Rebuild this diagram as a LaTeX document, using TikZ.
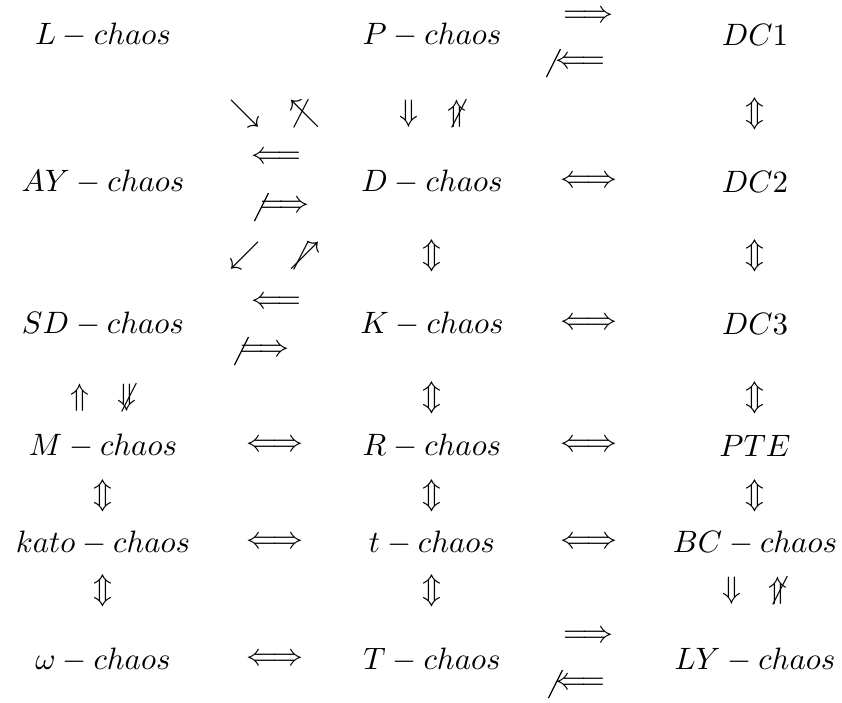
\documentclass[tikz,border=0pt]{standalone}
\usepackage{amsmath,amssymb}
\usepackage{tikz}
\usetikzlibrary{positioning}
% slash through a long implication, #2 = shift of its middle from the arrow start
\newcommand{\crossout}[2]{\draw[slash] ([shift={(#2-7,14)}]#1.west) -- ([shift={(#2+7,-14)}]#1.west);}
\begin{document}
\begin{tikzpicture}[
    x=0.3233pt,
    y=-0.3233pt,
    chaos/.style={
        inner sep=0pt,
        anchor=center
    },
    imp/.style={
        inner sep=0pt,
        anchor=center
    },
    slash/.style={
        line width=0.4pt
    }
]
\useasboundingbox (0,0) rectangle (842,702);

% first row
\node[chaos] (L) at (103,35) {$L-chaos$};
\node[chaos] (P) at (432,35) {$P-chaos$};
\node[chaos] (DC1) at (755,35) {$DC1$};
\node[imp] (PtoDC) at (588,17) {$\Longrightarrow$};
\node[imp] (DCnotP) at (580,63) {$\Longleftarrow$};
\crossout{DCnotP}{-1}

% arrows below first row
\node[imp] (PtoAY) at (245,114) {$\searrow$};
\node[imp] (AYnotP) at (305,114) {$\not\nwarrow$};
\node[imp] (PtoD) at (409,114) {$\Downarrow$};
\node[imp] (DnotP) at (457,114) {$\not\Uparrow$};
\node[imp] (DC12) at (755,114) {$\Updownarrow$};

% second row
\node[chaos] (AY) at (103,182) {$AY-chaos$};
\node[chaos] (D) at (432,182) {$D-chaos$};
\node[chaos] (DC2) at (755,182) {$DC2$};
\node[imp] (DtoAY) at (276,158) {$\Longleftarrow$};
\node[imp] (AYnotD) at (285,207) {$\Longrightarrow$};
\crossout{AYnotD}{2}
\node[imp] (DDC2) at (589,182) {$\Longleftrightarrow$};

% arrows below second row
\node[imp] (KtoSD) at (245,256) {$\swarrow$};
\node[imp] (SDnotK) at (305,256) {$\not\nearrow$};
\node[imp] (DK) at (432,256) {$\Updownarrow$};
\node[imp] (DC23) at (755,256) {$\Updownarrow$};

% third row
\node[chaos] (SD) at (103,324) {$SD-chaos$};
\node[chaos] (K) at (432,324) {$K-chaos$};
\node[chaos] (DC3) at (755,324) {$DC3$};
\node[imp] (KtoSDb) at (276,303) {$\Longleftarrow$};
\node[imp] (SDnotKb) at (265,351) {$\Longrightarrow$};
\crossout{SDnotKb}{2}
\node[imp] (KDC3) at (589,324) {$\Longleftrightarrow$};

% arrows below third row
\node[imp] (MtoSD) at (80,398) {$\Uparrow$};
\node[imp] (SDnotM) at (127,398) {$\not\Downarrow$};
\node[imp] (KR) at (432,398) {$\Updownarrow$};
\node[imp] (DC3PTE) at (755,398) {$\Updownarrow$};

% fourth row
\node[chaos] (M) at (103,446) {$M-chaos$};
\node[chaos] (R) at (432,446) {$R-chaos$};
\node[chaos] (PTE) at (755,446) {$PTE$};
\node[imp] (MR) at (275,446) {$\Longleftrightarrow$};
\node[imp] (RPTE) at (589,446) {$\Longleftrightarrow$};

% arrows below fourth row
\node[imp] (Mkato) at (103,496) {$\Updownarrow$};
\node[imp] (Rt) at (432,496) {$\Updownarrow$};
\node[imp] (PTEBC) at (755,496) {$\Updownarrow$};

% fifth row
\node[chaos] (kato) at (103,543) {$kato-chaos$};
\node[chaos] (t) at (432,543) {$t-chaos$};
\node[chaos] (BC) at (755,543) {$BC-chaos$};
\node[imp] (katot) at (275,543) {$\Longleftrightarrow$};
\node[imp] (tBC) at (589,543) {$\Longleftrightarrow$};

% arrows below fifth row
\node[imp] (katoomega) at (103,591) {$\Updownarrow$};
\node[imp] (tT) at (432,591) {$\Updownarrow$};
\node[imp] (BCtoLY) at (732,591) {$\Downarrow$};
\node[imp] (LYnotBC) at (778,591) {$\not\Uparrow$};

% last row
\node[chaos] (omega) at (103,660) {$\omega-chaos$};
\node[chaos] (T) at (432,660) {$T-chaos$};
\node[chaos] (LY) at (755,660) {$LY-chaos$};
\node[imp] (omegaT) at (275,660) {$\Longleftrightarrow$};
\node[imp] (TtoLY) at (588,637) {$\Longrightarrow$};
\node[imp] (LYnotT) at (580,684) {$\Longleftarrow$};
\crossout{LYnotT}{1}

\end{tikzpicture}
\end{document}
